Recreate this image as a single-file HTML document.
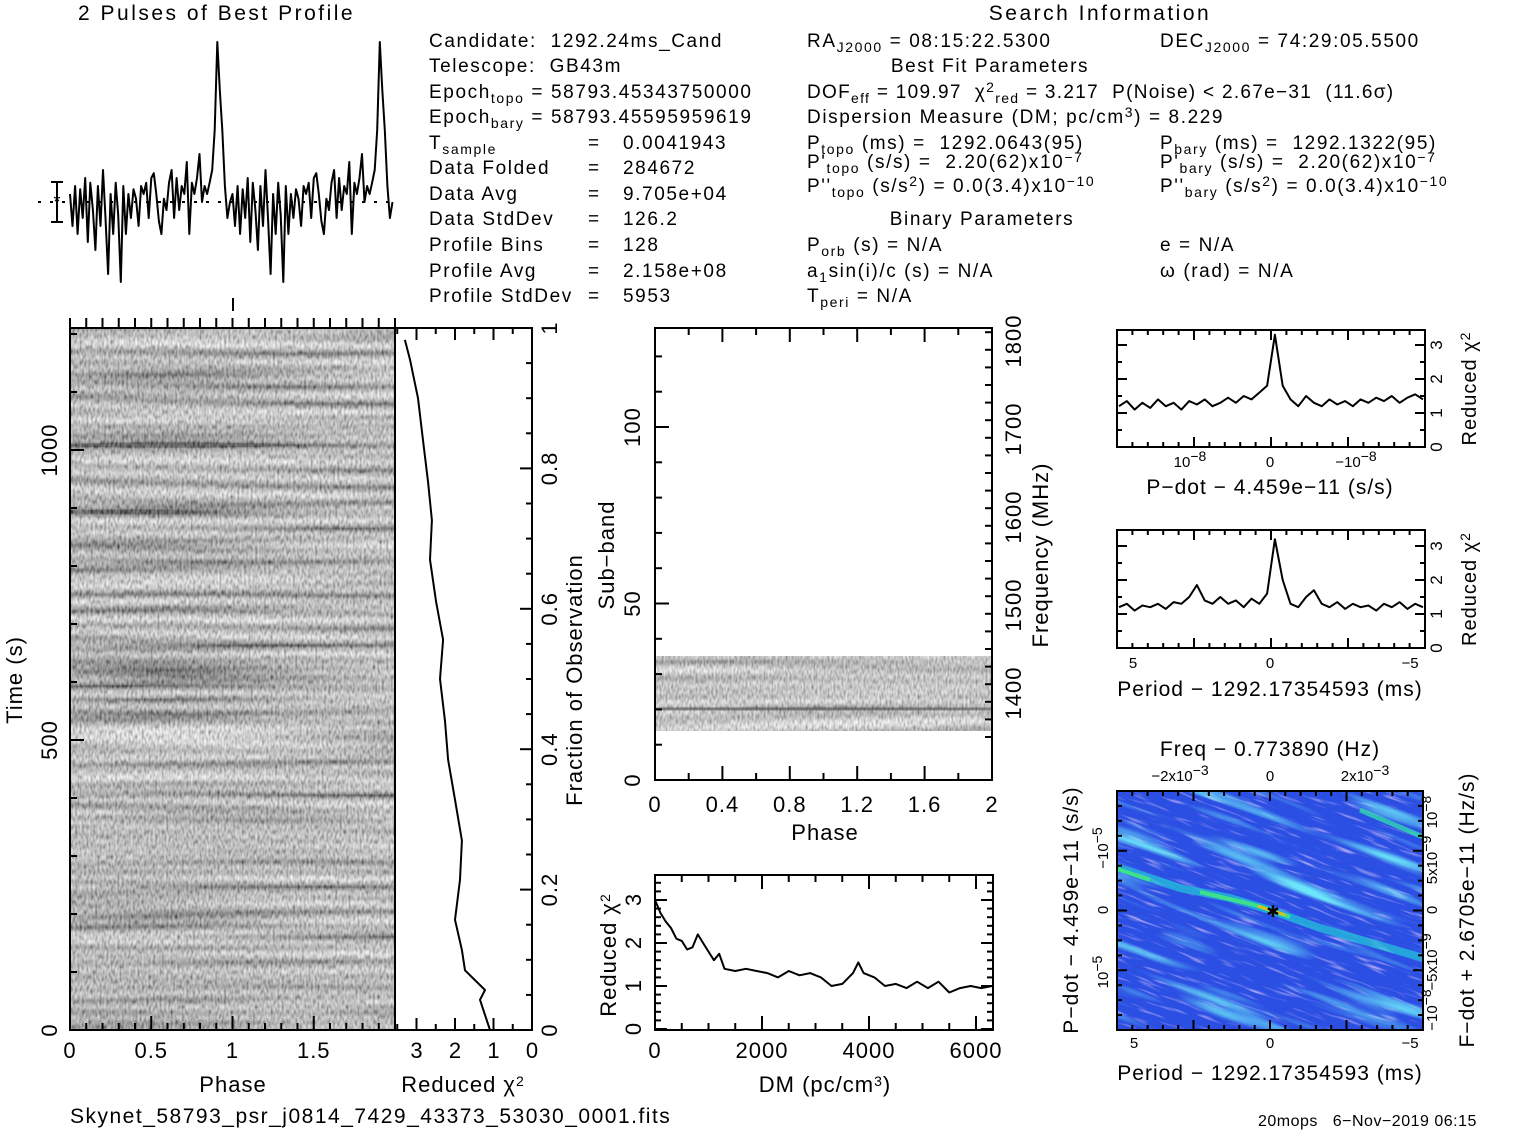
<!DOCTYPE html>
<html><head><meta charset="utf-8"><style>
html,body{margin:0;padding:0;background:#fff;overflow:hidden;width:1517px;height:1133px;}
svg{display:block;font-family:"Liberation Sans",sans-serif;}
text{fill:#000;white-space:pre;}
</style></head><body>
<svg id="s" width="1517" height="1133" viewBox="0 0 1517 1133" xmlns="http://www.w3.org/2000/svg">
<defs>
<filter id="grey" x="0" y="0" width="100%" height="100%">
<feTurbulence type="fractalNoise" baseFrequency="0.45 0.2" numOctaves="1" seed="4"/>
<feColorMatrix values="1.5 0 0 0 -0.25  1.5 0 0 0 -0.25  1.5 0 0 0 -0.25  0 0 0 0 1"/>
</filter>
<filter id="bands" x="0" y="0" width="100%" height="100%">
<feTurbulence type="fractalNoise" baseFrequency="0.003 0.12" numOctaves="1" seed="11"/>
<feColorMatrix values="2 0 0 0 -0.5  2 0 0 0 -0.5  2 0 0 0 -0.5  0 0 0 0 1"/>
</filter>
<filter id="grey2" x="0" y="0" width="100%" height="100%">
<feTurbulence type="fractalNoise" baseFrequency="0.5 0.2" numOctaves="1" seed="9"/>
<feColorMatrix values="1.4 0 0 0 -0.1  1.4 0 0 0 -0.1  1.4 0 0 0 -0.1  0 0 0 0 1"/>
</filter>
<filter id="cyan" x="-20%" y="-20%" width="140%" height="140%">
<feTurbulence type="fractalNoise" baseFrequency="0.006 0.07" numOctaves="2" seed="3"/>
<feColorMatrix values="0 0 0 0 0.15  0 0 0 0 0.8  0 0 0 0 0.95  3.5 0 0 0 -1.85"/>
</filter>
<filter id="purp" x="-20%" y="-20%" width="140%" height="140%">
<feTurbulence type="fractalNoise" baseFrequency="0.03 0.3" numOctaves="2" seed="7"/>
<feColorMatrix values="0 0 0 0 0.6  0 0 0 0 0.5  0 0 0 0 0.95  3 0 0 0 -1.75"/>
</filter>
<clipPath id="mapclip"><rect x="1117" y="791" width="306" height="239"/></clipPath>
</defs>
<g id="g"></g>
</svg>
<script>
// ---------- data ----------
const profileBins = [0.05,-0.15,0.1,-0.2,0.08,-0.1,0.15,-0.25,0.12,-0.05,-0.3,0.1,-0.15,0.2,-0.1,-0.45,0.05,-0.2,0.12,-0.08,-0.5,0.1,-0.2,0.05,-0.1,0.08,0.02,-0.15,0.1,0.05,0.12,-0.1,0.15,0.18,0.05,-0.12,-0.2,0.02,-0.05,0.12,0.2,-0.1,0.15,-0.05,0.1,0.05,0.25,-0.2,0.12,0.05,0.15,0.3,0.0,0.1,0.05,0.12,0.2,0.45,1.0,0.7,0.45,0.1,-0.1,0.0];
const fracObs = [0,0.043,0.057,0.085,0.114,0.157,0.214,0.27,0.328,0.385,0.44,0.5,0.556,0.61,0.67,0.726,0.78,0.84,0.9,0.955,0.983];
const fracChi = [1.09,1.35,1.22,1.74,1.82,2.0,1.87,1.82,2.0,2.18,2.26,2.39,2.31,2.49,2.65,2.6,2.7,2.83,2.96,3.17,3.3];
const dmVals = [0,100,200,300,400,500,600,700,800,900,1000,1100,1200,1300,1500,1700,1900,2100,2300,2500,2700,2900,3100,3300,3500,3700,3800,3900,4100,4300,4500,4700,4900,5100,5300,5500,5700,5900,6100,6300];
const dmChi = [3.0,2.7,2.5,2.35,2.1,2.05,1.85,1.9,2.2,2.0,1.8,1.6,1.75,1.4,1.35,1.4,1.35,1.3,1.2,1.35,1.25,1.3,1.2,1.0,1.05,1.3,1.55,1.3,1.2,1.0,1.05,0.95,1.1,0.95,1.1,0.85,0.95,1.0,0.95,1.0];
const pdotChi = [1.2,1.35,1.1,1.3,1.15,1.4,1.2,1.3,1.1,1.35,1.25,1.4,1.2,1.3,1.45,1.3,1.5,1.4,1.6,1.8,3.3,1.8,1.4,1.2,1.5,1.3,1.2,1.4,1.25,1.35,1.2,1.4,1.3,1.45,1.35,1.5,1.3,1.45,1.55,1.4];
const periodChi = [1.2,1.3,1.1,1.25,1.2,1.3,1.15,1.35,1.3,1.5,1.85,1.4,1.3,1.5,1.3,1.4,1.2,1.45,1.3,1.6,3.2,2.0,1.3,1.2,1.5,1.7,1.3,1.2,1.35,1.15,1.3,1.2,1.25,1.1,1.3,1.2,1.35,1.15,1.3,1.2];
const timeTicks = [0,500,1000];
const phaseTicks = ['0','0.5','1','1.5'];
const chiTicks = [3,2,1,0];
const fracTicks = ['0','0.2','0.4','0.6','0.8','1'];
const subTicks = [0,50,100];
const freqTicks = [1400,1500,1600,1700,1800];
const sbPhaseTicks = ['0','0.4','0.8','1.2','1.6','2'];
const dmTicks = [0,2000,4000,6000];

const NS='http://www.w3.org/2000/svg';
const G=document.getElementById('g');
function mk(tag,attrs,name,inter){
  const el=document.createElementNS(NS,tag);
  for(const k in attrs) el.setAttribute(k,attrs[k]);
  
  
  G.appendChild(el); return el;
}
function txt(x,y,s,name,size,anchor,rot,ls){
  const el=mk('text',{x:x,y:y,'font-size':size||20,'text-anchor':anchor||'start','letter-spacing':(ls||0)+'px'},name);
  if(rot) el.setAttribute('transform','rotate(-90 '+x+' '+y+')');
  el.innerHTML=s; return el;
}
function ln(x1,y1,x2,y2,name,w){return mk('line',{x1:x1,y1:y1,x2:x2,y2:y2,stroke:'#000','stroke-width':w||2},name);}
function box(x,y,w,h,name){return mk('rect',{x:x,y:y,width:w,height:h,fill:'none',stroke:'#000','stroke-width':2},name);}
function poly(pts,name){return mk('polyline',{points:pts.map(p=>p[0].toFixed(1)+','+p[1].toFixed(1)).join(' '),fill:'none',stroke:'#000','stroke-width':2,'stroke-linejoin':'round'},name);}
function xticks(x0,x1,y,n,major,len,dir,name){for(let i=0;i<=n;i++){const x=x0+(x1-x0)*i/n;const L=(i%major==0)?len:len/2;ln(x,y,x,y+dir*L,name,2);}}
const sub=(s)=>'<tspan font-size="14" baseline-shift="-35%">'+s+'</tspan>';
const sup=(s)=>'<tspan font-size="14" baseline-shift="45%">'+s+'</tspan>';

// ---------- titles / header ----------
txt(78,20,'2 Pulses of Best Profile','profile-title',21,'start',false,2.5);
txt(1100,20,'Search Information','search-info-title',21,'middle',false,2.5);
const L1=1.6;
txt(429,47,'Candidate:  1292.24ms_Cand','candidate',19,'start',false,L1);
txt(429,72,'Telescope:  GB43m','telescope',19,'start',false,L1);
txt(429,98,'Epoch'+sub('topo')+' = 58793.45343750000','epoch-topo',19,'start',false,L1);
txt(429,123,'Epoch'+sub('bary')+' = 58793.45595959619','epoch-bary',19,'start',false,L1);
const c1b=[['T'+sub('sample'),'0.0041943',149],['Data Folded','284672',174],['Data Avg','9.705e+04',200],['Data StdDev','126.2',225],['Profile Bins','128',251],['Profile Avg','2.158e+08',277],['Profile StdDev','5953',302]];
c1b.forEach(r=>{txt(429,r[2],r[0],'info-label',19,'start',false,L1);txt(588,r[2],'=','info-eq',19);txt(623,r[2],r[1],'info-value',19,'start',false,L1);});
txt(807,47,'RA'+sub('J2000')+' = 08:15:22.5300','ra',19,'start',false,L1);
txt(990,72,'Best Fit Parameters','best-fit-title',19,'middle',false,L1);
txt(807,98,'DOF'+sub('eff')+' = 109.97  χ'+sup('2')+sub('red')+' = 3.217  P(Noise) &lt; 2.67e−31  (11.6σ)','dof-line',19,'start',false,1.3);
txt(807,123,'Dispersion Measure (DM; pc/cm'+sup('3')+') = 8.229','dm-line',19,'start',false,L1);
txt(807,149,'P'+sub('topo')+' (ms) =  1292.0643(95)','ptopo',19,'start',false,L1);
txt(807,168,'P\''+sub('topo')+' (s/s) =  2.20(62)x10'+sup('−7'),'pdtopo',19,'start',false,L1);
txt(807,192,'P\'\''+sub('topo')+' (s/s'+sup('2')+') = 0.0(3.4)x10'+sup('−10'),'pddtopo',19,'start',false,L1);
txt(982,225,'Binary Parameters','binary-title',19,'middle',false,L1);
txt(807,251,'P'+sub('orb')+' (s) = N/A','porb',19,'start',false,L1);
txt(807,277,'a'+sub('1')+'sin(i)/c (s) = N/A','asini',19,'start',false,L1);
txt(807,302,'T'+sub('peri')+' = N/A','tperi',19,'start',false,L1);
txt(1160,47,'DEC'+sub('J2000')+' = 74:29:05.5500','dec',19,'start',false,L1);
txt(1160,149,'P'+sub('bary')+' (ms) =  1292.1322(95)','pbary',19,'start',false,L1);
txt(1160,168,'P\''+sub('bary')+' (s/s) =  2.20(62)x10'+sup('−7'),'pdbary',19,'start',false,L1);
txt(1160,192,'P\'\''+sub('bary')+' (s/s'+sup('2')+') = 0.0(3.4)x10'+sup('−10'),'pddbary',19,'start',false,L1);
txt(1160,251,'e = N/A','ecc',19,'start',false,L1);
txt(1160,277,'ω (rad) = N/A','omega',19,'start',false,L1);
txt(70,1123,'Skynet_58793_psr_j0814_7429_43373_53030_0001.fits','filename',21,'start',false,1.5);
txt(1258,1126,'20mops   6−Nov−2019 06:15','timestamp',16,'start',false,0.5);

// ---------- profile ----------
const PX0=70,PX1=395,PBASE=202,PSC=160;
const px=ph=>PX0+ph*(PX1-PX0)/2;
const ppts=[];
for(let k=0;k<2;k++) profileBins.forEach((v,i)=>ppts.push([px(k+i/profileBins.length),PBASE-v*PSC]));
poly(ppts,'profile-line');
mk('line',{x1:38,y1:202,x2:395,y2:202,stroke:'#000','stroke-width':2,'stroke-dasharray':'3 9'},'profile-mean-line');
ln(57,182,57,222,'error-bar');ln(51,182,63,182,'error-bar-cap');ln(51,222,63,222,'error-bar-cap');
txt(57,208,'*','error-bar-star',18,'middle');
ln(233,298,233,311,'phase-marker');

// ---------- time vs phase ----------
mk('rect',{x:70,y:328,width:325,height:702,fill:'#888',filter:'url(#grey)'},'time-phase-image');
mk('rect',{x:70,y:328,width:325,height:702,fill:'#888',filter:'url(#bands)',opacity:0.45},'time-phase-row-bands');
box(70,328,325,702,'time-phase-frame');
xticks(70,395,1030,20,5,14,-1,'x-tick');
for(let i=0;i<=20;i++){const x=70+325*i/20;ln(x,318,x,328,'top-tick',2);}
const ty=t=>1030-t*0.58;
for(let t=0;t<=1200;t+=100){const L=t%500==0?14:7;ln(70,ty(t),70+L,ty(t),'y-tick');}
timeTicks.forEach(t=>txt(57,ty(t),String(t),'time-tick-label',22,'middle',true,1));
phaseTicks.forEach((s,i)=>txt(70+i*81.25,1058,s,'phase-tick-label',22,'middle',false,1));
txt(233,1092,'Phase','phase-axis-title',22,'middle',false,1);
txt(22,680,'Time (s)','time-axis-title',22,'middle',true,1);

// ---------- chi vs fraction ----------
box(395,328,137,702,'chi-time-frame');
const cx=c=>532-c*38.5, fy=f=>1030-f*702;
poly(fracObs.map((f,i)=>[cx(fracChi[i]),fy(f)]),'chi-time-line');
for(let f=0;f<=1.0001;f+=0.05){const L=Math.round(f*20)%4==0?12:6;ln(532,fy(f),532-L,fy(f),'frac-tick');}
for(let c=0;c<=3.5;c+=0.5){const L=(c%1==0)?12:6;ln(cx(c),1030,cx(c),1030-L,'chi-tick');ln(cx(c),328,cx(c),328+L,'chi-tick');}
chiTicks.forEach(c=>txt(cx(c),1058,String(c),'chi-tick-label',22,'middle'));
txt(463,1092,'Reduced χ'+sup('2'),'chi-axis-title',22,'middle',false,1);
fracTicks.forEach((s,i)=>txt(557,fy(i*0.2),s,'frac-tick-label',22,'middle',true,1));
txt(582,680,'Fraction of Observation','frac-axis-title',22,'middle',true,1);

// ---------- subbands ----------
const sy=s=>780-s*3.53, sx=p=>655+p*168.5;
mk('rect',{x:655,y:sy(35),width:337,height:sy(14)-sy(35),fill:'#999',filter:'url(#grey2)'},'subband-image');
mk('rect',{x:655,y:sy(35),width:337,height:sy(14)-sy(35),fill:'#888',filter:'url(#bands)',opacity:0.4},'subband-row-bands');
mk('rect',{x:655,y:sy(20)-2,width:337,height:3,fill:'#333',opacity:0.5},'subband-dark-row');
box(655,328,337,452,'subband-frame');
for(let s=0;s<=125;s+=10){const L=s%50==0?14:7;ln(655,sy(s),655+L,sy(s),'sub-tick');}
for(let p=0;p<=2.0001;p+=0.2){const L=Math.round(p*5)%2==0?14:7;ln(sx(p),780,sx(p),780-L,'phase-tick');ln(sx(p),328,sx(p),328+L,'phase-tick');}
const fy2=f=>693-(f-1400)*0.88;
for(let f=1350;f<=1850;f+=20){const y=fy2(f);if(y<330||y>778)continue;const L=f%100==0?14:7;ln(992,y,992-L,y,'freq-tick');}
subTicks.forEach(s=>txt(640,sy(s),String(s),'sub-tick-label',22,'middle',true,1));
sbPhaseTicks.forEach((s,i)=>txt(sx(i*0.4),812,s,'sb-phase-tick-label',22,'middle',false,1));
txt(825,840,'Phase','sb-phase-axis-title',22,'middle',false,1);
txt(614,555,'Sub−band','subband-axis-title',22,'middle',true,1);
freqTicks.forEach(f=>txt(1021,fy2(f),String(f),'freq-tick-label',22,'middle',true,1));
txt(1048,555,'Frequency (MHz)','freq-axis-title',22,'middle',true,1);

// ---------- DM chi ----------
const dx=d=>655+d*0.0535, dy=c=>1029-c*43;
box(655,875,338,155,'dm-frame');
poly(dmVals.map((d,i)=>[dx(d),dy(dmChi[i])]),'dm-chi-line');
for(let d=0;d<=6300;d+=500){const L=d%2000==0?14:7;ln(dx(d),1030,dx(d),1030-L,'dm-tick');ln(dx(d),875,dx(d),875+L,'dm-tick');}
for(let c=0;c<=3.5;c+=0.2){const L=Math.round(c*5)%5==0?12:6;ln(655,dy(c),655+L,dy(c),'dmchi-tick');ln(993,dy(c),993-L,dy(c),'dmchi-tick');}
[0,1,2,3].forEach(c=>txt(641,dy(c),String(c),'dmchi-tick-label',22,'middle',true));
dmTicks.forEach(d=>txt(dx(d),1058,String(d),'dm-tick-label',22,'middle',false,1));
txt(825,1092,'DM (pc/cm'+sup('3')+')','dm-axis-title',22,'middle',false,1);
txt(616,955,'Reduced χ'+sup('2'),'dmchi-axis-title',22,'middle',true,1);

// ---------- small chi panels ----------
function smallPanel(y0,y1,vals,scale,name){
  box(1117,y0,308,y1-y0,name+'-frame');
  const n=vals.length, xs=i=>1119+i*(304/(n-1)), ys=c=>y1-c*scale;
  poly(vals.map((v,i)=>[xs(i),ys(v)]),name+'-line');
  for(let c=0;c<=3.4;c+=0.5){const L=(c%1==0)?10:5;ln(1425,ys(c),1425-L,ys(c),name+'-tick');ln(1117,ys(c),1117+L,ys(c),name+'-tick');}
  for(let i=0;i<=20;i++){const x=1117+308*i/20;const L=i%5==0?10:5;ln(x,y1,x,y1-L,name+'-tick');ln(x,y0,x,y0+L,name+'-tick');}
  [0,1,2,3].forEach(c=>txt(1442,ys(c),String(c),name+'-tick-label',17,'middle',true));
  txt(1476,(y0+y1)/2,'Reduced χ'+sup('2'),name+'-axis-title',20,'middle',true,1);
}
smallPanel(330,447,pdotChi,34,'pdot-chi');
txt(1190,467,'10'+sup('−8'),'pdot-tick-label',15,'middle');
txt(1270,467,'0','pdot-tick-label',15,'middle');
txt(1356,467,'−10'+sup('−8'),'pdot-tick-label',15,'middle');
txt(1270,494,'P−dot − 4.459e−11 (s/s)','pdot-axis-title',21,'middle',false,1);
smallPanel(530,648,periodChi,34,'period-chi');
txt(1133,668,'5','period-tick-label',15,'middle');
txt(1270,668,'0','period-tick-label',15,'middle');
txt(1410,668,'−5','period-tick-label',15,'middle');
txt(1270,696,'Period − 1292.17354593 (ms)','period-axis-title',21,'middle',false,1);

// ---------- P-Pdot map ----------
const mapG=mk('g',{'clip-path':'url(#mapclip)'},'ppdot-map');
function mp(tag,attrs,name){const el=document.createElementNS(NS,tag);for(const k in attrs)el.setAttribute(k,attrs[k]);mapG.appendChild(el);return el;}
mp('rect',{x:1117,y:791,width:306,height:239,fill:'#2c4fe3'},'map-background');
mp('rect',{x:900,y:600,width:800,height:700,fill:'#fff',filter:'url(#purp)',transform:'rotate(20 1270 910)'},'map-purple-streaks');
mp('rect',{x:900,y:600,width:800,height:700,fill:'#fff',filter:'url(#cyan)',transform:'rotate(20 1270 910)'},'map-cyan-streaks');
mp('path',{d:'M1110,865 L1180,888 L1230,898 L1270,910 L1320,928 L1430,960',stroke:'#22c8d8','stroke-width':8,fill:'none',opacity:0.7},'map-ridge');
mp('path',{d:'M1115,868 L1150,880 M1200,892 L1255,905 L1290,917',stroke:'#3fe08a','stroke-width':4,fill:'none'},'map-ridge-green');
mp('path',{d:'M1258,906 L1285,915',stroke:'#d8c020','stroke-width':3,fill:'none'},'map-peak');
mp('path',{d:'M1360,810 L1430,840',stroke:'#30d8b0','stroke-width':5,fill:'none',opacity:0.8},'map-ridge-top');
box(1117,791,306,239,'map-frame');
txt(1273,917,'✱','best-fit-marker',16,'middle');
for(let i=0;i<=20;i++){const x=1117+306*i/20;const L=i%5==0?10:5;ln(x,1030,x,1030-L,'map-tick');ln(x,791,x,791+L,'map-tick');}
for(let i=0;i<=16;i++){const y=791+239*i/16;const L=i%4==0?10:5;ln(1117,y,1117+L,y,'map-tick');ln(1423,y,1423-L,y,'map-tick');}
txt(1270,756,'Freq − 0.773890 (Hz)','freq-axis-title-map',21,'middle',false,1);
txt(1180,781,'−2x10'+sup('−3'),'freq-tick-label',15,'middle');
txt(1270,781,'0','freq-tick-label',15,'middle');
txt(1365,781,'2x10'+sup('−3'),'freq-tick-label',15,'middle');
txt(1134,1048,'5','map-period-tick-label',15,'middle');
txt(1270,1048,'0','map-period-tick-label',15,'middle');
txt(1410,1048,'−5','map-period-tick-label',15,'middle');
txt(1270,1080,'Period − 1292.17354593 (ms)','map-period-axis-title',21,'middle',false,1);
txt(1108,848,'−10'+sup('−5'),'pdot-map-tick-label',15,'middle',true);
txt(1108,910,'0','pdot-map-tick-label',15,'middle',true);
txt(1108,972,'10'+sup('−5'),'pdot-map-tick-label',15,'middle',true);
txt(1078,910,'P−dot − 4.459e−11 (s/s)','pdot-map-axis-title',21,'middle',true,1);
[['10'+sup('−8'),812],['5x10'+sup('−9'),860],['0',910],['−5x10'+sup('−9'),962],['−10'+sup('−8'),1010]].forEach(r=>txt(1437,r[1],r[0],'fdot-tick-label',15,'middle',true));
txt(1474,910,'F−dot + 2.6705e−11 (Hz/s)','fdot-axis-title',21,'middle',true,1);
</script>
</body></html>
